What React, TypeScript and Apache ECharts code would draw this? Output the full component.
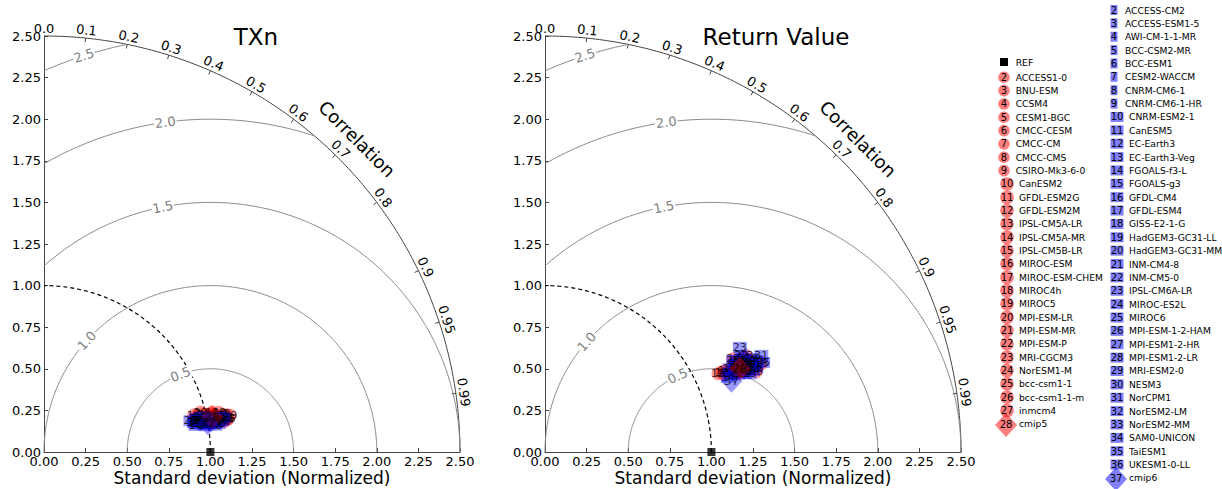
import React, { useEffect, useRef } from 'react';
import * as echarts from 'echarts';

const FONT = '"DejaVu Sans", "Bitstream Vera Sans", sans-serif';

// ---------- tick labels / levels ----------
const corrTickLabels = ['0.0', '0.1', '0.2', '0.3', '0.4', '0.5', '0.6', '0.7', '0.8', '0.9', '0.95', '0.99'];
const rmsLevels = [0.5, 1.0, 1.5, 2.0, 2.5];
const rmsLevelLabels = ['0.5', '1.0', '1.5', '2.0', '2.5'];
const panelTitles = ['TXn', 'Return Value'];
const xAxisTitle = 'Standard deviation (Normalized)';
const refStd = 1.0;

// ---------- model names ----------
const cmip5Models = [
  'ACCESS1-0', 'BNU-ESM', 'CCSM4', 'CESM1-BGC', 'CMCC-CESM', 'CMCC-CM', 'CMCC-CMS', 'CSIRO-Mk3-6-0',
  'CanESM2', 'GFDL-ESM2G', 'GFDL-ESM2M', 'IPSL-CM5A-LR', 'IPSL-CM5A-MR', 'IPSL-CM5B-LR', 'MIROC-ESM',
  'MIROC-ESM-CHEM', 'MIROC4h', 'MIROC5', 'MPI-ESM-LR', 'MPI-ESM-MR', 'MPI-ESM-P', 'MRI-CGCM3',
  'NorESM1-M', 'bcc-csm1-1', 'bcc-csm1-1-m', 'inmcm4', 'cmip5',
];
const cmip6Models = [
  'ACCESS-CM2', 'ACCESS-ESM1-5', 'AWI-CM-1-1-MR', 'BCC-CSM2-MR', 'BCC-ESM1', 'CESM2-WACCM', 'CNRM-CM6-1',
  'CNRM-CM6-1-HR', 'CNRM-ESM2-1', 'CanESM5', 'EC-Earth3', 'EC-Earth3-Veg', 'FGOALS-f3-L', 'FGOALS-g3',
  'GFDL-CM4', 'GFDL-ESM4', 'GISS-E2-1-G', 'HadGEM3-GC31-LL', 'HadGEM3-GC31-MM', 'INM-CM4-8', 'INM-CM5-0',
  'IPSL-CM6A-LR', 'MIROC-ES2L', 'MIROC6', 'MPI-ESM-1-2-HAM', 'MPI-ESM1-2-HR', 'MPI-ESM1-2-LR', 'MRI-ESM2-0',
  'NESM3', 'NorCPM1', 'NorESM2-LM', 'NorESM2-MM', 'SAM0-UNICON', 'TaiESM1', 'UKESM1-0-LL', 'cmip6',
];

// ---------- TXn (normalized std, correlation); last entry = ensemble ----------
const txnCmip5Std = [0.948, 0.975, 1.007, 1.024, 1.055, 1.083, 1.104, 1.124, 0.953, 0.987, 1.038, 1.061, 1.110,
  1.128, 0.927, 1.012, 1.077, 1.141, 0.970, 1.039, 1.089, 0.990, 1.116, 0.932, 1.095, 1.026, 1.032];
const txnCmip5Corr = [0.970, 0.974, 0.974, 0.977, 0.976, 0.979, 0.978, 0.979, 0.975, 0.973, 0.973, 0.980, 0.982,
  0.984, 0.971, 0.978, 0.975, 0.981, 0.969, 0.981, 0.983, 0.979, 0.985, 0.977, 0.986, 0.975, 0.979];
const txnCmip6Std = [0.908, 0.939, 0.967, 0.998, 1.026, 1.057, 0.922, 0.945, 0.981, 1.005, 1.039, 1.064, 0.924,
  0.963, 0.983, 1.022, 1.042, 1.079, 0.900, 0.969, 0.996, 1.028, 1.056, 0.936, 1.087, 0.988, 1.016, 1.049, 0.949,
  0.975, 1.010, 1.034, 1.071, 0.918, 1.100, 1.000];
const txnCmip6Corr = [0.980, 0.979, 0.983, 0.982, 0.985, 0.984, 0.976, 0.984, 0.979, 0.986, 0.981, 0.987, 0.985,
  0.976, 0.987, 0.979, 0.988, 0.983, 0.978, 0.981, 0.984, 0.983, 0.985, 0.983, 0.985, 0.981, 0.984, 0.982, 0.980,
  0.985, 0.980, 0.986, 0.981, 0.981, 0.982, 0.985];

// ---------- Return Value ----------
const rvCmip5Std = [1.227, 1.308, 1.333, 1.359, 1.275, 1.342, 1.298, 1.374, 1.200, 1.141, 1.169, 1.342, 1.320,
  1.362, 1.164, 1.186, 1.404, 1.263, 1.339, 1.357, 1.296, 1.257, 1.276, 1.358, 1.363, 1.261, 1.272];
const rvCmip5Corr = [0.913, 0.918, 0.930, 0.927, 0.902, 0.909, 0.909, 0.931, 0.917, 0.911, 0.916, 0.902, 0.902,
  0.918, 0.911, 0.911, 0.926, 0.918, 0.918, 0.914, 0.926, 0.907, 0.917, 0.935, 0.924, 0.896, 0.920];
const rvCmip6Std = [1.244, 1.263, 1.283, 1.319, 1.229, 1.354, 1.316, 1.306, 1.250, 1.215, 1.284, 1.313, 1.189,
  1.317, 1.284, 1.299, 1.217, 1.361, 1.384, 1.237, 1.315, 1.329, 1.289, 1.257, 1.334, 1.282, 1.321, 1.317, 1.262,
  1.424, 1.252, 1.283, 1.343, 1.369, 1.417, 1.200];
const rvCmip6Corr = [0.908, 0.918, 0.927, 0.925, 0.927, 0.923, 0.912, 0.903, 0.920, 0.922, 0.911, 0.922, 0.926,
  0.934, 0.904, 0.916, 0.912, 0.911, 0.918, 0.922, 0.898, 0.881, 0.931, 0.899, 0.914, 0.921, 0.916, 0.919, 0.911,
  0.913, 0.927, 0.927, 0.931, 0.928, 0.925, 0.934];

const panels = [
  { c5s: txnCmip5Std, c5c: txnCmip5Corr, c6s: txnCmip6Std, c6c: txnCmip6Corr, rmsAngles: [111, 138, 101, 97.8, 107.7] },
  { c5s: rvCmip5Std, c5c: rvCmip5Corr, c6s: rvCmip6Std, c6c: rvCmip6Corr, rmsAngles: [114, 138.5, 101, 97.8, 107.7] },
];

const RED = 'rgba(255,0,0,0.5)';
const BLUE = 'rgba(0,0,255,0.5)';
const MAXR = 2.5;
const deg = Math.PI / 180;

function toXY(std: number, corr: number): [number, number] {
  return [std * corr, std * Math.sqrt(Math.max(0, 1 - corr * corr))];
}

function arcPts(cx: number, r: number, t0: number, t1: number): number[][] {
  const pts: number[][] = [];
  const n = Math.max(8, Math.ceil((t1 - t0) / (0.5 * deg)));
  for (let i = 0; i <= n; i++) {
    const t = t0 + ((t1 - t0) * i) / n;
    pts.push([cx + r * Math.cos(t), r * Math.sin(t)]);
  }
  return pts;
}

function clamp(v: number) {
  return Math.max(-1, Math.min(1, v));
}

function rmsArc(r: number) {
  const t0 = Math.acos(clamp((MAXR * MAXR - refStd * refStd - r * r) / (2 * r * refStd)));
  const t1 = Math.acos(clamp(-refStd / r));
  return arcPts(refStd, r, t0, t1);
}

function numLabel(size: number) {
  return {
    show: true,
    position: 'inside',
    formatter: (p: any) => String(p.value[2]),
    color: '#000',
    fontSize: size,
    fontFamily: FONT,
  };
}

function panelSeries(g: number) {
  const p = panels[g];
  const ax = { xAxisIndex: g, yAxisIndex: g };
  const lineBase = { type: 'line', ...ax, showSymbol: false, symbol: 'none', silent: true, clip: false, z: 1 };
  const s: any[] = [];
  s.push({ ...lineBase, data: arcPts(0, MAXR, 0, 90 * deg), lineStyle: { color: '#444', width: 1 } });
  rmsLevels.forEach((r) => {
    s.push({ ...lineBase, data: rmsArc(r), lineStyle: { color: '#888', width: 1 } });
  });
  s.push({ ...lineBase, data: arcPts(0, refStd, 0, 90 * deg), lineStyle: { color: '#000', width: 1.2, type: [4, 3] } });
  s.push({
    type: 'lines',
    coordinateSystem: 'cartesian2d',
    ...ax,
    silent: true,
    z: 1,
    lineStyle: { color: '#444', width: 1, opacity: 1 },
    data: corrTickLabels.map((l) => {
      const th = Math.acos(parseFloat(l));
      return { coords: [[MAXR * Math.cos(th), MAXR * Math.sin(th)], [(MAXR - 0.025) * Math.cos(th), (MAXR - 0.025) * Math.sin(th)]] };
    }),
  });
  s.push({ type: 'scatter', ...ax, symbol: 'rect', symbolSize: 8, data: [[refStd, 0]], itemStyle: { color: '#000' }, z: 5, silent: true });

  const n5 = p.c5s.length - 1;
  const d5 = [];
  for (let i = 0; i < n5; i++) d5.push([...toXY(p.c5s[i], p.c5c[i]), i + 2]);
  s.push({
    type: 'scatter', ...ax, symbol: 'circle',
    symbolSize: (v: any) => (v[2] >= 10 ? 13 : 11),
    data: d5, itemStyle: { color: RED }, label: numLabel(11), z: 6,
  });
  const n6 = p.c6s.length - 1;
  const d6 = [];
  for (let i = 0; i < n6; i++) d6.push([...toXY(p.c6s[i], p.c6c[i]), i + 2]);
  s.push({
    type: 'scatter', ...ax, symbol: 'rect',
    symbolSize: (v: any) => [v[2] >= 10 ? 14 : 9, 11],
    data: d6, itemStyle: { color: BLUE }, label: numLabel(11), z: 7,
  });
  s.push({
    type: 'scatter', ...ax, symbol: 'diamond', symbolSize: [22, 24],
    data: [[...toXY(p.c5s[n5], p.c5c[n5]), n5 + 2]], itemStyle: { color: RED }, label: numLabel(12), z: 8,
  });
  s.push({
    type: 'scatter', ...ax, symbol: 'diamond', symbolSize: [22, 24],
    data: [[...toXY(p.c6s[n6], p.c6c[n6]), n6 + 2]], itemStyle: { color: BLUE }, label: numLabel(12), z: 8,
  });
  return s;
}

function axisCommon(g: number) {
  return {
    gridIndex: g,
    type: 'value',
    min: 0,
    max: MAXR,
    interval: 0.25,
    axisLine: { show: true, onZero: false, lineStyle: { color: '#444', width: 1 } },
    axisTick: { show: true, inside: true, length: 4, lineStyle: { color: '#444' } },
    splitLine: { show: false },
    axisLabel: {
      formatter: (v: number) => v.toFixed(2),
      fontSize: 13,
      color: '#000',
      fontFamily: FONT,
      showMinLabel: true,
      showMaxLabel: true,
      margin: 3,
    },
  };
}

function legendGraphics(): any[] {
  const els: any[] = [];
  const txt = (x: number, y: number, t: string, size = 9.2) => ({
    type: 'text', x, y, z: 50,
    style: { text: t, fill: '#000', fontSize: size, fontFamily: FONT, align: 'left', verticalAlign: 'middle' },
  });
  const num = (x: number, y: number, t: string) => ({
    type: 'text', x, y, z: 51,
    style: { text: t, fill: '#000', fontSize: 10, fontFamily: FONT, align: 'center', verticalAlign: 'middle' },
  });
  const diamond = (cx: number, cy: number, fill: string) => ({
    type: 'polygon', z: 49,
    shape: { points: [[cx, cy - 12], [cx + 11, cy], [cx, cy + 12], [cx - 11, cy]] },
    style: { fill },
  });
  // REF
  els.push({ type: 'rect', z: 49, shape: { x: 1000, y: 58, width: 8, height: 8 }, style: { fill: '#000' } });
  els.push(txt(1015.7, 62.5, 'REF'));
  // CMIP5 column
  cmip5Models.forEach((name, k) => {
    const n = k + 2;
    const y = 77.3 + k * 13.33;
    const two = n >= 10;
    const cx = 1004 + (two ? 3 : 0);
    if (k === cmip5Models.length - 1) {
      els.push(diamond(1006, y + 1, RED));
      els.push(num(1006, y + 1, String(n)));
      els.push(txt(1019, y, name));
    } else {
      els.push({ type: 'circle', z: 49, shape: { cx, cy: y, r: two ? 6.8 : 5.8 }, style: { fill: RED } });
      els.push(num(cx, y, String(n)));
      els.push(txt(1015.7 + (two ? 3.3 : 0), y, name));
    }
  });
  // CMIP6 column
  cmip6Models.forEach((name, k) => {
    const n = k + 2;
    const y = 10 + k * 13.37;
    const two = n >= 10;
    const cx = 1114 + (two ? 3 : 0);
    if (k === cmip6Models.length - 1) {
      els.push(diamond(1116, y + 1, BLUE));
      els.push(num(1116, y + 1, String(n)));
      els.push(txt(1129, y, name));
    } else {
      const w = two ? 13 : 7;
      els.push({ type: 'rect', z: 49, shape: { x: cx - w / 2, y: y - 5, width: w, height: 10 }, style: { fill: BLUE } });
      els.push(num(cx, y, String(n)));
      els.push(txt(1125 + (two ? 4 : 0), y, name));
    }
  });
  return els;
}

export default function App() {
  const ref = useRef<HTMLDivElement>(null);
  useEffect(() => {
    if (!ref.current) return;
    const chart = echarts.init(ref.current, undefined, { renderer: 'svg' });
    const grids = [
      { left: 44, top: 36, width: 416, height: 416, containLabel: false, outerBoundsMode: 'none' },
      { left: 545, top: 36, width: 416, height: 416, containLabel: false, outerBoundsMode: 'none' },
    ];
    const xAxes = [0, 1].map((g) => ({ ...axisCommon(g), position: 'bottom' }));
    const yAxes = [0, 1].map((g) => ({ ...axisCommon(g), position: 'left' }));
    chart.setOption({
      animation: false,
      backgroundColor: '#fff',
      textStyle: { fontFamily: FONT },
      grid: grids,
      xAxis: xAxes,
      yAxis: yAxes,
      series: [...panelSeries(0), ...panelSeries(1)],
    });

    const graphics: any[] = [];
    const titlePos = [[256, 37], [776, 37]];
    panelTitles.forEach((t, g) => {
      graphics.push({
        type: 'text', x: titlePos[g][0], y: titlePos[g][1], z: 40,
        style: { text: t, fill: '#000', fontSize: 23, fontFamily: FONT, align: 'center', verticalAlign: 'middle' },
      });
    });
    [0, 1].forEach((g) => {
      const px = (x: number, y: number) => chart.convertToPixel({ gridIndex: g }, [x, y]) as number[];
      const bottomMid = px(MAXR / 2, 0);
      graphics.push({
        type: 'text', x: bottomMid[0], y: bottomMid[1] + 26, z: 40,
        style: { text: xAxisTitle, fill: '#000', fontSize: 17, fontFamily: FONT, align: 'center', verticalAlign: 'middle' },
      });
      corrTickLabels.forEach((l) => {
        const th = Math.acos(parseFloat(l));
        const pt = px(2.548 * Math.cos(th), 2.548 * Math.sin(th));
        graphics.push({
          type: 'text', x: pt[0], y: pt[1], rotation: th - Math.PI / 2, z: 40,
          style: { text: l, fill: '#000', fontSize: 13, fontFamily: FONT, align: 'center', verticalAlign: 'middle' },
        });
      });
      const cp = px(2.66 * Math.cos(45 * deg), 2.66 * Math.sin(45 * deg));
      graphics.push({
        type: 'text', x: cp[0], y: cp[1], rotation: -Math.PI / 4, z: 40,
        style: { text: 'Correlation', fill: '#000', fontSize: 18, fontFamily: FONT, align: 'center', verticalAlign: 'middle' },
      });
      rmsLevels.forEach((r, i) => {
        const a = panels[g].rmsAngles[i] * deg;
        const pt = px(refStd + r * Math.cos(a), r * Math.sin(a));
        graphics.push({
          type: 'text', x: pt[0], y: pt[1], rotation: a - Math.PI / 2, z: 3,
          style: {
            text: rmsLevelLabels[i], fill: '#808080', fontSize: 13, fontFamily: FONT,
            align: 'center', verticalAlign: 'middle', backgroundColor: '#fff', padding: [0, 1],
          },
        });
      });
    });
    graphics.push(...legendGraphics());
    chart.setOption({ graphic: graphics });

    return () => chart.dispose();
  }, []);
  return (
    <div
      ref={ref}
      style={{ position: 'absolute', left: 0, top: 0, width: 1222, height: 489, background: '#fff' }}
    />
  );
}
